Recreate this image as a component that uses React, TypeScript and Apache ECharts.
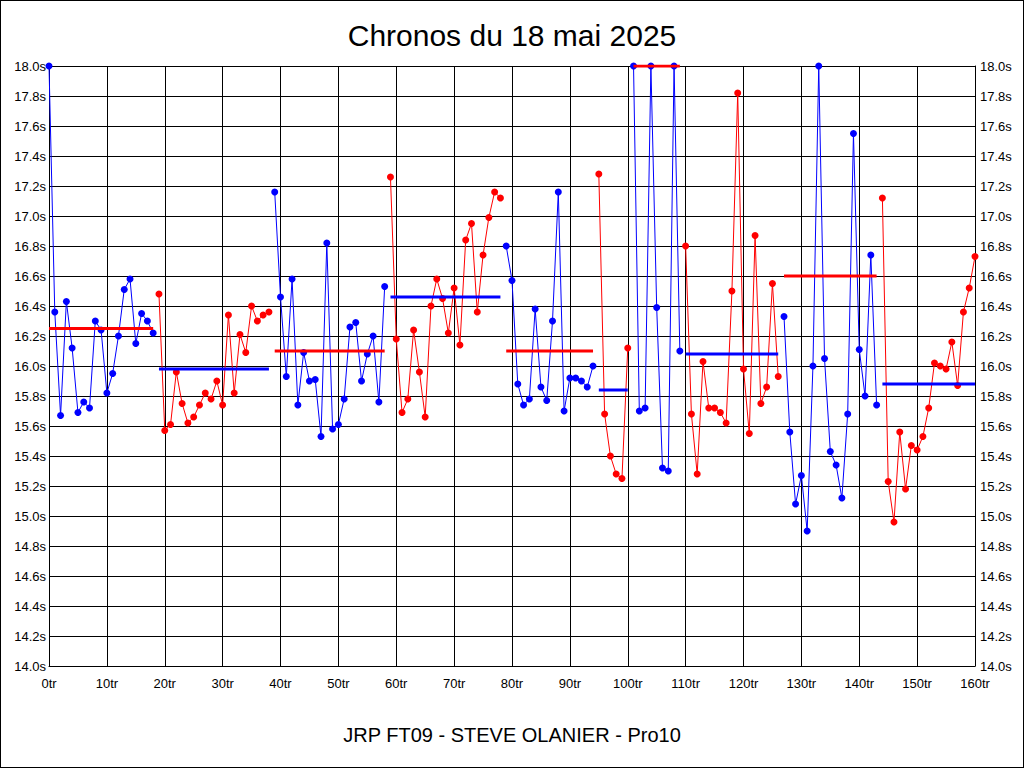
import React, { useEffect, useRef } from "react";
import * as echarts from "echarts";

const TITLE = "Chronos du 18 mai 2025";
const SUBTITLE = "JRP FT09 - STEVE OLANIER - Pro10";

// lap times (s), lap 0..160
const lapTimes: number[] = [
  18.0, 16.36, 15.67, 16.43, 16.12, 15.69, 15.76, 15.72, 16.3, 16.24,
  15.82, 15.95, 16.2, 16.51, 16.58, 16.15, 16.35, 16.3, 16.22, 16.48,
  15.57, 15.61, 15.96, 15.75, 15.62, 15.66, 15.74, 15.82, 15.78, 15.9,
  15.74, 16.34, 15.82, 16.21, 16.09, 16.4, 16.3, 16.34, 16.36, 17.16,
  16.46, 15.93, 16.58, 15.74, 16.09, 15.9, 15.91, 15.53, 16.82, 15.58,
  15.61, 15.78, 16.26, 16.29, 15.9, 16.08, 16.2, 15.76, 16.53, 17.26,
  16.18, 15.69, 15.78, 16.24, 15.96, 15.66, 16.4, 16.58, 16.45, 16.22,
  16.52, 16.14, 16.84, 16.95, 16.36, 16.74, 16.99, 17.16, 17.12, 16.8,
  16.57, 15.88, 15.74, 15.78, 16.38, 15.86, 15.77, 16.3, 17.16, 15.7,
  15.92, 15.92, 15.9, 15.86, 16.0, 17.28, 15.68, 15.4, 15.28, 15.25,
  16.12, 18.0, 15.7, 15.72, 18.0, 16.39, 15.32, 15.3, 18.0, 16.1,
  16.8, 15.68, 15.28, 16.03, 15.72, 15.72, 15.69, 15.62, 16.5, 17.82,
  15.98, 15.55, 16.87, 15.75, 15.86, 16.55, 15.93, 16.33, 15.56, 15.08,
  15.27, 14.9, 16.0, 18.0, 16.05, 15.43, 15.34, 15.12, 15.68, 17.55,
  16.11, 15.8, 16.74, 15.74, 17.12, 15.23, 14.96, 15.56, 15.18, 15.47,
  15.44, 15.53, 15.72, 16.02, 16.0, 15.98, 16.16, 15.87, 16.36, 16.52,
  16.73,
];

// first lap of each stint
const stintStarts: number[] = [0, 19, 39, 59, 79, 95, 101, 110, 127, 144];
// stint average lap time (s)
const stintAverages: number[] = [16.25, 15.98, 16.1, 16.46, 16.1, 15.84, 18.0, 16.08, 16.6, 15.88];

const xTickLabels: string[] = ["0tr", "10tr", "20tr", "30tr", "40tr", "50tr", "60tr", "70tr", "80tr", "90tr", "100tr", "110tr", "120tr", "130tr", "140tr", "150tr", "160tr"];

const BLUE = "#0000ff";
const RED = "#ff0000";
const FONT = "'Liberation Sans', Arial, sans-serif";

export default function App() {
  const ref = useRef<HTMLDivElement>(null);

  useEffect(() => {
    if (!ref.current) return;
    const chart = echarts.init(ref.current, null, { renderer: "svg" });
    const lastLap = lapTimes.length - 1;
    const series: any[] = [];
    stintStarts.forEach((start, i) => {
      const end = i + 1 < stintStarts.length ? stintStarts[i + 1] - 1 : lastLap;
      const pointColor = i % 2 === 0 ? BLUE : RED;
      const avgColor = i % 2 === 0 ? RED : BLUE;
      const pts: number[][] = [];
      for (let l = start; l <= end; l++) pts.push([l, lapTimes[l]]);
      series.push({
        type: "line",
        data: pts,
        symbol: "circle",
        symbolSize: 7,
        itemStyle: { color: pointColor },
        lineStyle: { color: pointColor, width: 1 },
        z: 3,
      });
      series.push({
        type: "line",
        data: [
          [start, stintAverages[i]],
          [end, stintAverages[i]],
        ],
        symbol: "none",
        lineStyle: { color: avgColor, width: 3 },
        z: 4,
      });
    });

    const yAxisBase = {
      type: "value",
      min: 14,
      max: 18,
      interval: 0.2,
      axisLine: { show: true, lineStyle: { color: "#000", width: 1 } },
      axisTick: { show: false },
      axisLabel: {
        color: "#000",
        fontSize: 13,
        fontFamily: FONT,
        formatter: (v: number) => v.toFixed(1) + "s",
      },
    };

    chart.setOption({
      animation: false,
      backgroundColor: "transparent",
      title: [
        {
          text: TITLE,
          left: "center",
          top: 15,
          textStyle: { color: "#000", fontSize: 30, fontWeight: "normal", fontFamily: FONT },
        },
        {
          text: SUBTITLE,
          left: "center",
          top: 720,
          textStyle: { color: "#000", fontSize: 20, fontWeight: "normal", fontFamily: FONT },
        },
      ],
      grid: { left: 49, right: 49, top: 66, bottom: 102, containLabel: false },
      xAxis: {
        type: "value",
        min: 0,
        max: 160,
        interval: 10,
        axisLine: { show: true, lineStyle: { color: "#000", width: 1 } },
        axisTick: { show: false },
        axisLabel: {
          color: "#000",
          fontSize: 13,
          fontFamily: FONT,
          margin: 11,
          formatter: (v: number) => xTickLabels[Math.round(v / 10)] ?? "",
        },
        splitLine: { show: true, lineStyle: { color: "#000", width: 1 } },
      },
      yAxis: [
        {
          ...yAxisBase,
          position: "left",
          axisLabel: { ...yAxisBase.axisLabel, margin: 3 },
          splitLine: { show: true, lineStyle: { color: "#000", width: 1 } },
        },
        {
          ...yAxisBase,
          position: "right",
          axisLabel: { ...yAxisBase.axisLabel, margin: 5 },
          splitLine: { show: false },
        },
      ],
      series,
    });
    return () => chart.dispose();
  }, []);

  return (
    <div
      style={{
        position: "fixed",
        left: 0,
        top: 0,
        width: 1024,
        height: 768,
        boxSizing: "border-box",
        border: "1px solid #000",
        background: "#fff",
        overflow: "hidden",
      }}
    >
      <div ref={ref} style={{ position: "absolute", left: -1, top: -1, width: 1024, height: 768 }} />
    </div>
  );
}
